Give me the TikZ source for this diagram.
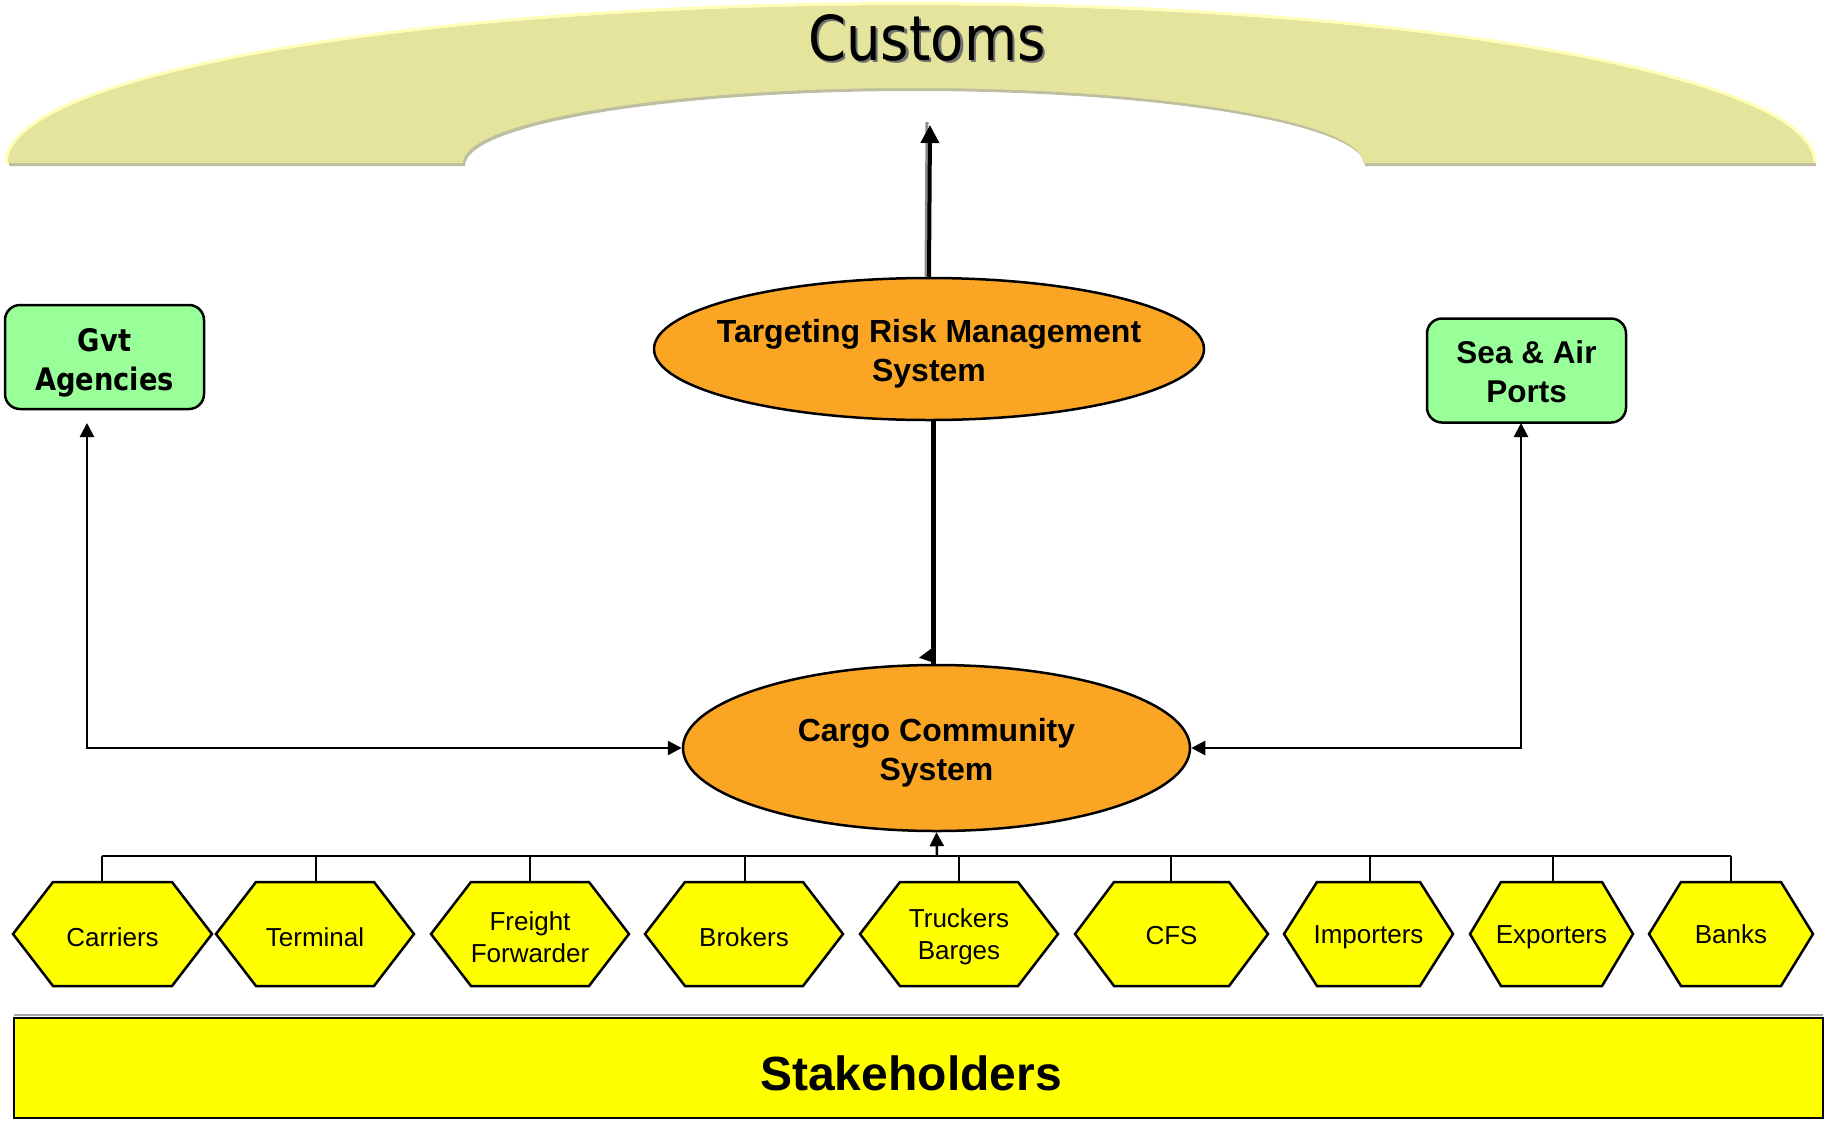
\documentclass[tikz,border=0pt]{standalone}
\usepackage{fontspec}
\setmainfont{Liberation Sans}
\newfontfamily\tahoma{DejaVu Sans}[FakeStretch=0.88]
\usetikzlibrary{shapes.geometric,arrows.meta}
\definecolor{archfill}{RGB}{228,228,156}
\definecolor{archglow}{RGB}{255,255,185}
\definecolor{archshade}{RGB}{190,190,160}
\definecolor{orangefill}{RGB}{250,166,36}
\definecolor{greenfill}{RGB}{153,255,153}
\definecolor{yellowfill}{RGB}{255,255,0}
\newcommand\hexa[7]{%
  \draw[hexshape] (#2-#3,934) -- (#2-#3+#4,882) -- (#2+#3-#4,882) -- (#2+#3,934)
     -- (#2+#3-#4,986) -- (#2-#3+#4,986) -- cycle;
  \node[hextext] (#1) at (#2,#6) {#7};
  \coordinate (#1-top) at (#5,882);}
\begin{document}
\begin{tikzpicture}[x=1pt,y=-1pt,
  oval/.style={ellipse, draw=black, line width=2.5pt, fill=orangefill, inner sep=0pt},
  ovaltext/.style={font=\bfseries\fontsize{32}{39}\selectfont, align=center, inner sep=0pt},
  greenbox/.style={draw=black, line width=2.5pt, fill=greenfill, rounded corners=15pt,
     minimum width=199pt, minimum height=104pt, inner sep=0pt},
  boxtext/.style={align=center, inner sep=0pt},
  hexshape/.style={draw=black, line width=2.5pt, fill=yellowfill, line join=miter},
  hextext/.style={font=\fontsize{26}{31.5}\selectfont, align=center, inner sep=0pt},
  conn/.style={line width=2.5pt},
  tip/.style={-{Triangle[length=14pt,width=14pt]}},
  bothtips/.style={{Triangle[length=14pt,width=14pt]}-{Triangle[length=14pt,width=14pt]}}
]
\useasboundingbox (0,0) rectangle (1829,1120);

% Customs arch
\fill[archshade, shift={(2,3)}] (7,163) arc[start angle=180, end angle=360, x radius=903.5, y radius=158]
   -- (1363,163) arc[start angle=360, end angle=180, x radius=450, y radius=75] -- cycle;
\fill[archfill] (7,163) arc[start angle=180, end angle=360, x radius=903.5, y radius=158]
   -- (1363,163) arc[start angle=360, end angle=180, x radius=450, y radius=75] -- cycle;
\draw[archglow, line width=3pt] (6,163) arc[start angle=180, end angle=360, x radius=904.5, y radius=159.5];
\node[anchor=base, text=black!55, font=\tahoma\fontsize{62}{70}\selectfont, inner sep=0pt] (customsShadow) at (929.5,62.5) {Customs};
\node[anchor=base, font=\tahoma\fontsize{62}{70}\selectfont, inner sep=0pt] (customs) at (927,60) {Customs};

% main nodes
\node[oval, minimum width=550pt, minimum height=142pt] (trms) at (929,349) {};
\node[ovaltext] (trmsText) at (929,354) {Targeting Risk Management\\System};
\node[oval, minimum width=507pt, minimum height=166pt] (ccs) at (936.5,748) {};
\node[ovaltext] (ccsText) at (936.5,753) {Cargo Community\\System};
\node[greenbox] (gvt) at (104.5,357) {};
\node[boxtext, font=\tahoma\bfseries\fontsize{31}{39}\selectfont] (gvtText) at (104.5,363) {Gvt\\Agencies};
\node[greenbox] (sea) at (1526.5,370.5) {};
\node[boxtext, font=\bfseries\fontsize{31.5}{39}\selectfont] (seaText) at (1526.5,371.5) {Sea \& Air\\Ports};

% connectors
\coordinate (customsTip) at (930,125);
\draw[black!45, line width=3pt] ([xshift=-3pt]trms.north) -- ([xshift=-3pt,yshift=3pt]customsTip);
\draw[line width=4pt, -{Triangle[length=18pt,width=18pt]}] (trms.north) -- (customsTip);
\coordinate (midx) at (933,0);
\draw[line width=5pt] (ccs.north -| midx) -- (trms.south -| midx);
\fill[shift={(ccs.north -| midx)}] (-14,-6) -- (-2,-15) -- (-2,-2) -- cycle;

\coordinate (gvtTip) at (87,423);
\draw[conn, bothtips] (gvtTip) |- (ccs.west);
\coordinate (seaTip) at (1521,423);
\draw[conn, bothtips] (seaTip) |- (ccs.east);

% stakeholder hexagons
\hexa{carriers}{112.5}{99.5}{40}{102}{937}{Carriers}
\hexa{terminal}{315}{99}{40}{316}{937}{Terminal}
\hexa{freight}{530}{99}{40}{530}{937}{Freight\\Forwarder}
\hexa{brokers}{744}{99}{40}{745}{937}{Brokers}
\hexa{truckers}{959}{99}{40}{959}{937}{Truckers\\Barges}
\hexa{cfs}{1171.5}{96.5}{39}{1171}{936}{CFS}
\hexa{importers}{1368.5}{84.5}{33}{1370}{937}{Importers}
\hexa{exporters}{1551.5}{81.5}{31}{1553}{937}{Exporters}
\hexa{banks}{1731}{82}{32}{1731}{934}{Banks}

\coordinate (bus) at (937,856);
\draw[conn] (carriers-top |- bus) -- (banks-top |- bus);
\foreach \h in {carriers,terminal,freight,brokers,truckers,cfs,importers,exporters,banks}
  \draw[line width=2pt] (\h-top) -- (\h-top |- bus);
\draw[conn, tip] (bus) -- (ccs.south);

% Stakeholders bar
\draw[black!35, line width=2pt] (14,1015) -- (1823,1015);
\node[draw=black, line width=2.5pt, fill=yellowfill, minimum width=1809pt, minimum height=100pt,
  inner sep=0pt] (stake) at (918.5,1068) {};
\node[font=\bfseries\fontsize{48}{54}\selectfont, inner sep=0pt] (stakeText) at (911,1073) {Stakeholders};
\end{tikzpicture}
\end{document}
